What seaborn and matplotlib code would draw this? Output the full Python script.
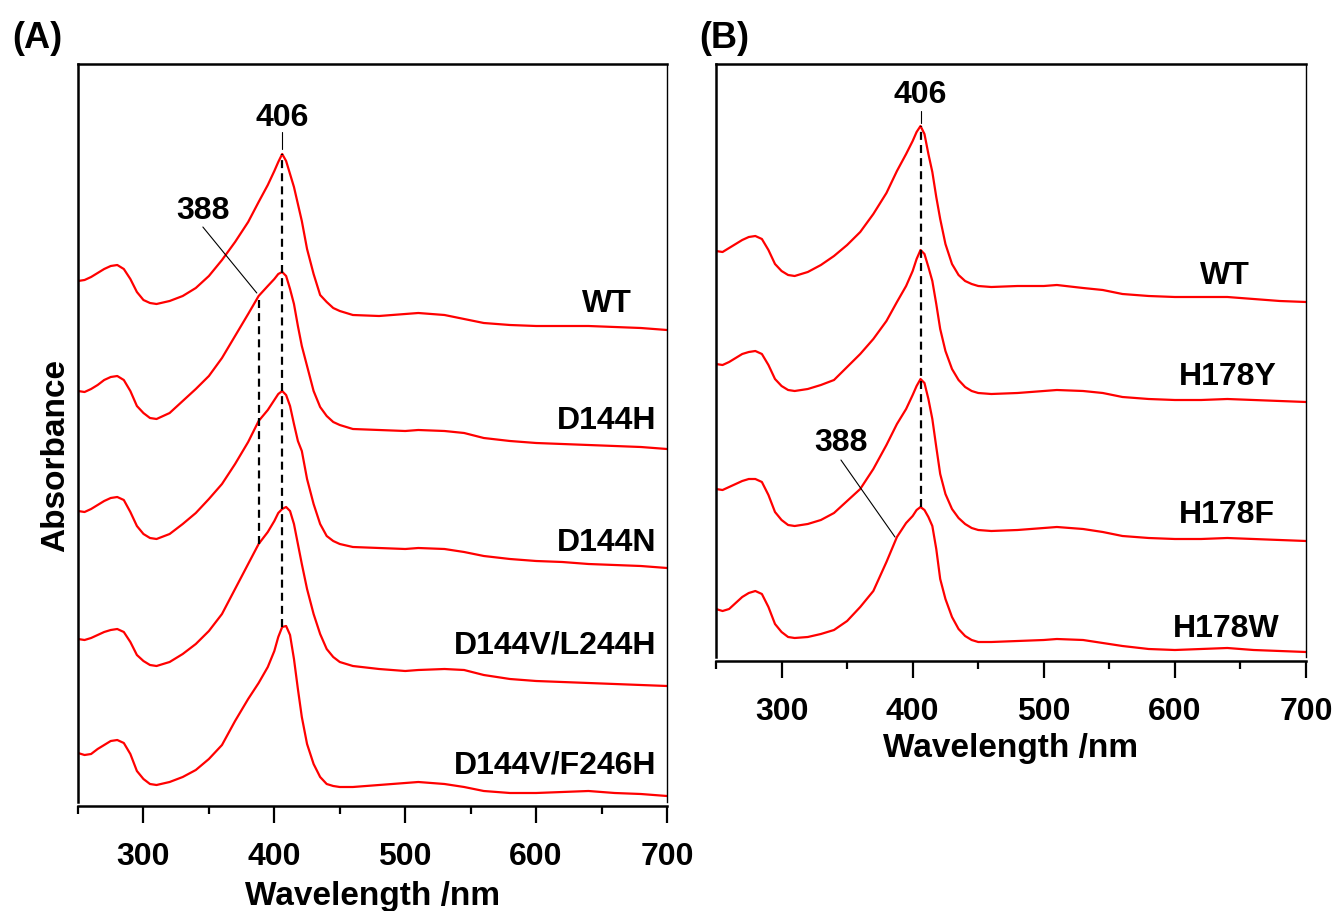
import numpy as np
import matplotlib
matplotlib.use("Agg")
import matplotlib.pyplot as plt
import seaborn as sns

# =========================================
# Data (stacked absorbance, arbitrary units)
# =========================================

wavelength = [250, 255, 260, 265, 270, 275, 280, 285, 290, 295, 300, 305, 310,
              320, 330, 340, 350, 360, 370, 380, 388, 395, 400, 403, 406, 409,
              412, 415, 418, 421, 425, 430, 435, 440, 445, 450,
              460, 480, 500, 510, 530, 545, 560, 580, 600, 620,
              640, 660, 680, 700]

# panel (A)
a_wt = [5.21, 5.22, 5.25, 5.29, 5.33, 5.36, 5.37, 5.33, 5.23, 5.10, 5.02, 4.99, 4.98,
        5.01, 5.06, 5.14, 5.26, 5.42, 5.60, 5.80, 6.00, 6.17, 6.31, 6.40, 6.48, 6.41,
        6.28, 6.15, 5.98, 5.81, 5.53, 5.28, 5.07, 5.00, 4.94, 4.91,
        4.87, 4.86, 4.88, 4.89, 4.87, 4.83, 4.79, 4.77, 4.76, 4.76,
        4.76, 4.75, 4.74, 4.72]
a_d144h = [4.11, 4.10, 4.13, 4.17, 4.22, 4.25, 4.26, 4.22, 4.11, 3.96, 3.89, 3.84, 3.83,
           3.89, 4.01, 4.13, 4.26, 4.44, 4.66, 4.88, 5.06, 5.16, 5.23, 5.28, 5.30, 5.26,
           5.13, 4.98, 4.76, 4.56, 4.36, 4.11, 3.95, 3.86, 3.80, 3.77,
           3.73, 3.72, 3.71, 3.72, 3.71, 3.69, 3.64, 3.61, 3.59, 3.58,
           3.57, 3.56, 3.55, 3.53]
a_d144n = [2.91, 2.90, 2.93, 2.97, 3.01, 3.04, 3.05, 3.02, 2.90, 2.76, 2.68, 2.64, 2.63,
           2.68, 2.78, 2.89, 3.03, 3.18, 3.38, 3.60, 3.81, 3.92, 4.02, 4.08, 4.11, 4.07,
           3.96, 3.78, 3.61, 3.51, 3.23, 2.98, 2.78, 2.66, 2.61, 2.58,
           2.55, 2.54, 2.53, 2.54, 2.53, 2.50, 2.46, 2.43, 2.41, 2.40,
           2.38, 2.37, 2.36, 2.34]
a_l244h = [1.63, 1.62, 1.64, 1.67, 1.70, 1.72, 1.73, 1.70, 1.60, 1.47, 1.41, 1.37, 1.36,
           1.40, 1.48, 1.58, 1.71, 1.88, 2.13, 2.38, 2.58, 2.70, 2.81, 2.89, 2.93, 2.95,
           2.91, 2.78, 2.58, 2.38, 2.13, 1.88, 1.68, 1.53, 1.45, 1.40,
           1.36, 1.33, 1.31, 1.32, 1.33, 1.32, 1.27, 1.23, 1.21, 1.20,
           1.19, 1.18, 1.17, 1.16]
a_f246h = [0.49, 0.47, 0.48, 0.53, 0.57, 0.61, 0.62, 0.59, 0.48, 0.31, 0.23, 0.18, 0.17,
           0.20, 0.25, 0.32, 0.43, 0.57, 0.81, 1.03, 1.19, 1.35, 1.51, 1.65, 1.75, 1.76,
           1.67, 1.43, 1.13, 0.85, 0.58, 0.38, 0.25, 0.18, 0.16, 0.15,
           0.15, 0.17, 0.19, 0.20, 0.18, 0.15, 0.11, 0.09, 0.09, 0.10,
           0.11, 0.09, 0.08, 0.06]

# panel (B)
b_wt = [4.06, 4.05, 4.09, 4.13, 4.17, 4.20, 4.21, 4.18, 4.07, 3.93, 3.86, 3.82, 3.81,
        3.85, 3.92, 4.01, 4.12, 4.25, 4.43, 4.64, 4.86, 5.03, 5.16, 5.25, 5.31, 5.23,
        5.03, 4.85, 4.60, 4.38, 4.13, 3.93, 3.82, 3.76, 3.73, 3.71,
        3.70, 3.71, 3.71, 3.72, 3.69, 3.67, 3.63, 3.61, 3.60, 3.60,
        3.60, 3.58, 3.56, 3.55]
b_h178y = [2.93, 2.92, 2.95, 2.99, 3.03, 3.05, 3.06, 3.03, 2.92, 2.78, 2.71, 2.67, 2.66,
           2.68, 2.72, 2.77, 2.90, 3.03, 3.18, 3.36, 3.55, 3.71, 3.86, 3.98, 4.07, 4.03,
           3.90, 3.76, 3.53, 3.28, 3.06, 2.88, 2.77, 2.70, 2.66, 2.64,
           2.63, 2.64, 2.66, 2.67, 2.66, 2.64, 2.60, 2.58, 2.57, 2.57,
           2.58, 2.57, 2.56, 2.55]
b_h178f = [1.68, 1.67, 1.70, 1.73, 1.76, 1.78, 1.78, 1.75, 1.62, 1.45, 1.37, 1.32, 1.31,
           1.33, 1.37, 1.44, 1.56, 1.68, 1.88, 2.12, 2.33, 2.48, 2.62, 2.71, 2.78, 2.74,
           2.58, 2.38, 2.10, 1.83, 1.63, 1.48, 1.39, 1.33, 1.29, 1.27,
           1.26, 1.27, 1.29, 1.30, 1.28, 1.25, 1.21, 1.19, 1.18, 1.18,
           1.19, 1.18, 1.17, 1.16]
b_h178w = [0.48, 0.46, 0.48, 0.54, 0.60, 0.64, 0.66, 0.63, 0.50, 0.33, 0.25, 0.20, 0.19,
           0.20, 0.23, 0.27, 0.36, 0.50, 0.66, 0.95, 1.20, 1.34, 1.41, 1.47, 1.50, 1.47,
           1.40, 1.31, 1.08, 0.78, 0.58, 0.40, 0.28, 0.21, 0.17, 0.15,
           0.15, 0.16, 0.17, 0.18, 0.17, 0.14, 0.11, 0.08, 0.07, 0.08,
           0.09, 0.07, 0.06, 0.05]

names_a = ["WT", "D144H", "D144N", "D144V/L244H", "D144V/F246H"]
names_b = ["WT", "H178Y", "H178F", "H178W"]

# =========================================
# Style
# =========================================

sns.set_theme(style="ticks")
plt.rcParams['font.family'] = ['Liberation Sans', 'DejaVu Sans']
plt.rcParams['font.weight'] = 'bold'
plt.rcParams['axes.labelweight'] = 'bold'
plt.rcParams['text.color'] = 'black'
plt.rcParams['axes.labelcolor'] = 'black'
plt.rcParams['xtick.color'] = 'black'
plt.rcParams['xtick.labelcolor'] = 'black'

RED = '#ff0000'
FS = 23

fig = plt.figure(figsize=(13.39, 9.12), dpi=100)
W, H = 1339, 912
ax1 = fig.add_axes([78 / W, 1 - 803 / H, 589 / W, 738 / H])
ax2 = fig.add_axes([716 / W, 1 - 658 / H, 590 / W, 593 / H])


def style_axis(ax, ymax):
    ax.set_xlim(250, 700)
    ax.set_ylim(0, ymax)
    ax.set_xticks([300, 400, 500, 600, 700])
    ax.set_xticks([250, 350, 450, 550, 650], minor=True)
    ax.set_yticks([])
    ax.tick_params(axis='x', which='major', direction='out', length=12,
                   width=1.6, color='black', labelcolor='black', labelsize=FS, pad=13)
    ax.tick_params(axis='x', which='minor', direction='out', length=6,
                   width=1.6, color='black')
    for s in ax.spines.values():
        s.set_color('black')
        s.set_visible(True)
    ax.spines['left'].set_linewidth(1.8)
    ax.spines['top'].set_linewidth(1.8)
    ax.spines['right'].set_linewidth(1.0)
    ax.spines['bottom'].set_linewidth(1.8)
    ax.spines['bottom'].set_position(('outward', 3))
    ax.set_ylabel("")
    ax.set_xlabel("")


def put_text(ax, x, y, s, ha='center'):
    ax.text(x, y, s, ha=ha, va='baseline', fontsize=FS, fontweight='bold', color='black')


# =========================================
# Panel (A)
# =========================================

traces_a = [a_wt, a_d144h, a_d144n, a_l244h, a_f246h]
for vals in traces_a:
    sns.lineplot(x=wavelength, y=vals, ax=ax1, color=RED, linewidth=1.6)
style_axis(ax1, 7.38)

label_pos_a = [(673, 4.905), (692, 3.735), (692, 2.515), (692, 1.495), (692, 0.295)]
for name, (x, y) in zip(names_a, label_pos_a):
    put_text(ax1, x, y, name, ha='right')

dash = (0, (3.6, 2.3))
ax1.plot([406, 406], [np.interp(406, wavelength, a_f246h), np.interp(406, wavelength, a_wt)],
         color='black', lw=1.6, linestyle=dash)
ax1.plot([388, 388], [np.interp(388, wavelength, a_l244h), np.interp(388, wavelength, a_d144h)],
         color='black', lw=1.6, linestyle=dash)
ax1.plot([406, 406], [6.53, 6.70], color='black', lw=0.8)
put_text(ax1, 406, 6.765, "406")
ax1.plot([345.4, 386.6], [5.75, 5.09], color='black', lw=0.8)
put_text(ax1, 345.4, 5.835, "388")

ax1.set_xlabel("Wavelength /nm", fontsize=FS + 1, fontweight='bold', color='black')
ax1.xaxis.label.set_va('baseline')
ax1.xaxis.set_label_coords(0.5, (803 - 905) / 738)

fig.text(56 / W, 1 - 456 / H, "Absorbance", rotation=90, ha='center', va='center',
         fontsize=FS + 1, fontweight='bold', color='black')

# =========================================
# Panel (B)
# =========================================

traces_b = [b_wt, b_h178y, b_h178f, b_h178w]
for vals in traces_b:
    sns.lineplot(x=wavelength, y=vals, ax=ax2, color=RED, linewidth=1.6)
style_axis(ax2, 5.93)

label_pos_b = [(657, 3.735), (678, 2.725), (676.5, 1.345), (680, 0.205)]
for name, (x, y) in zip(names_b, label_pos_b):
    put_text(ax2, x, y, name, ha='right')

ax2.plot([406, 406], [np.interp(406, wavelength, b_h178w), np.interp(406, wavelength, b_wt)],
         color='black', lw=1.6, linestyle=dash)
ax2.plot([406, 406], [5.34, 5.46], color='black', lw=0.8)
put_text(ax2, 406, 5.545, "406")
ax2.plot([345.3, 386.5], [1.97, 1.20], color='black', lw=0.8)
put_text(ax2, 345.3, 2.065, "388")

ax2.set_xlabel("Wavelength /nm", fontsize=FS + 1, fontweight='bold', color='black')
ax2.xaxis.label.set_va('baseline')
ax2.xaxis.set_label_coords(0.5, (658 - 757) / 593)

# panel letters
fig.text(12 / W, 1 - 48 / H, "(A)", ha='left', va='baseline', fontsize=26,
         fontweight='bold', color='black')
fig.text(699 / W, 1 - 48 / H, "(B)", ha='left', va='baseline', fontsize=26,
         fontweight='bold', color='black')

fig.savefig("out.png", dpi=100)
